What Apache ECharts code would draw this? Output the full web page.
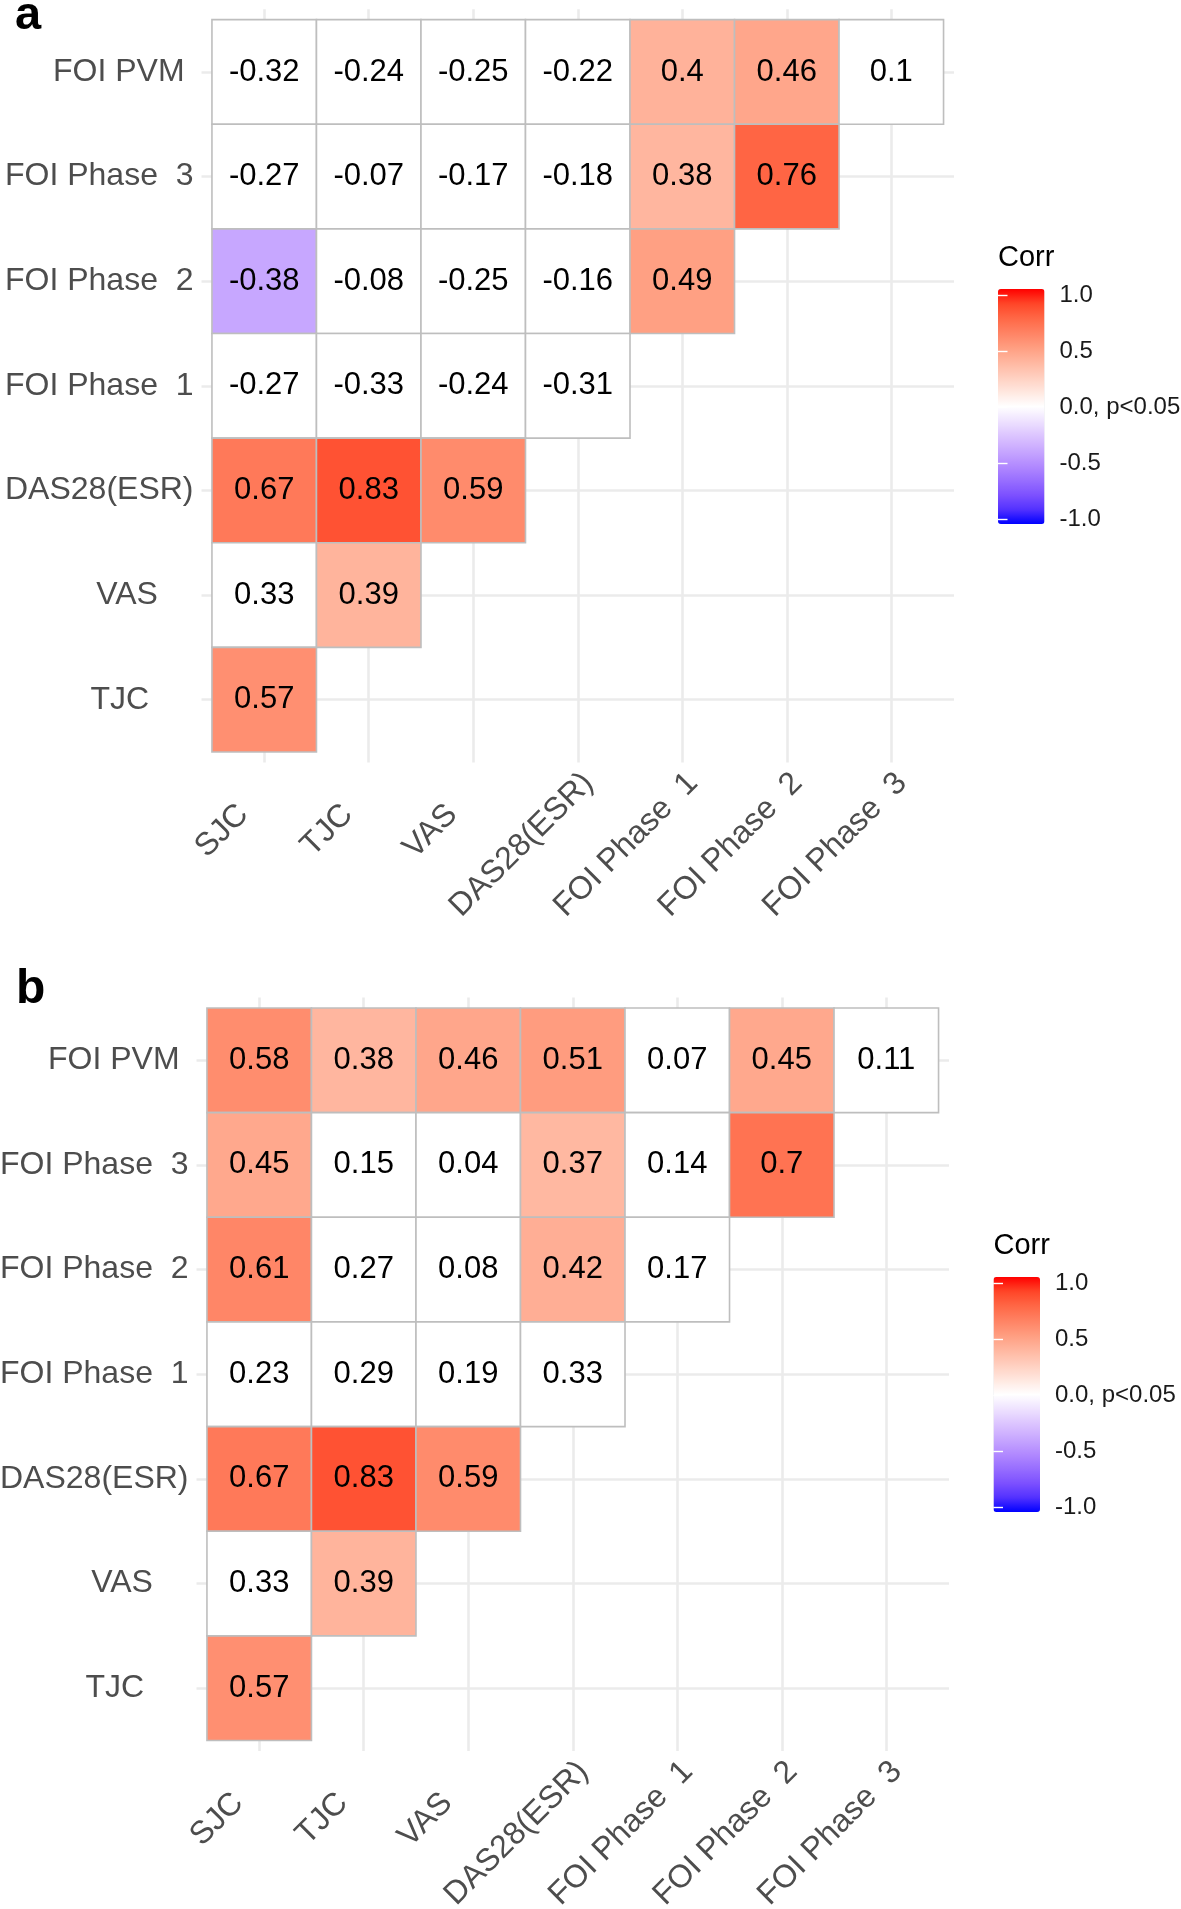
<!DOCTYPE html>
<html>
<head>
<meta charset="utf-8">
<script src="https://cdn.jsdelivr.net/npm/echarts@6/dist/echarts.min.js"></script>
<style>
  html, body { margin: 0; padding: 0; background: #ffffff; }
  #chart { width: 1181px; height: 1909px; }
</style>
</head>
<body>
<div id="chart"></div>
<script>
// Column variables (x axis), left to right; trailing spaces as in the original labels
const xLabels = ['SJC     ', 'TJC     ', 'VAS     ', 'DAS28(ESR)', 'FOI Phase  1', 'FOI Phase  2', 'FOI Phase  3'];
// Row variables (y axis), bottom to top
const yLabels = ['TJC     ', 'VAS    ', 'DAS28(ESR)', 'FOI Phase  1', 'FOI Phase  2', 'FOI Phase  3', 'FOI PVM '];

// Panel a correlations, rows listed top (FOI PVM) to bottom (TJC)
const corrA = [
  [-0.32, -0.24, -0.25, -0.22, 0.4, 0.46, 0.1],
  [-0.27, -0.07, -0.17, -0.18, 0.38, 0.76],
  [-0.38, -0.08, -0.25, -0.16, 0.49],
  [-0.27, -0.33, -0.24, -0.31],
  [0.67, 0.83, 0.59],
  [0.33, 0.39],
  [0.57]
];
// 1 = p<0.05 (coloured), 0 = not significant (left white)
const sigA = [
  [0, 0, 0, 0, 1, 1, 0],
  [0, 0, 0, 0, 1, 1],
  [1, 0, 0, 0, 1],
  [0, 0, 0, 0],
  [1, 1, 1],
  [0, 1],
  [1]
];

// Panel b correlations
const corrB = [
  [0.58, 0.38, 0.46, 0.51, 0.07, 0.45, 0.11],
  [0.45, 0.15, 0.04, 0.37, 0.14, 0.7],
  [0.61, 0.27, 0.08, 0.42, 0.17],
  [0.23, 0.29, 0.19, 0.33],
  [0.67, 0.83, 0.59],
  [0.33, 0.39],
  [0.57]
];
const sigB = [
  [1, 1, 1, 1, 0, 1, 0],
  [1, 0, 0, 1, 0, 1],
  [1, 0, 0, 1, 0],
  [0, 0, 0, 0],
  [1, 1, 1],
  [0, 1],
  [1]
];

const FONT = "'Liberation Sans', Arial, sans-serif";
// blue - white - red, interpolated in Lab like ggplot's gradient2
const corrColors = ['#0000FF', '#5432FF', '#7E52FF', '#996FFF', '#B38BFF', '#C8A8FF', '#DCC4FF', '#EEE2FF',
  '#FFFFFF', '#FFE7DF', '#FFCFBF', '#FFB7A0', '#FF9E81', '#FF8364', '#FF6846', '#FF4628', '#FF0000'];

function toCells(corr, sig) {
  const out = [];
  corr.forEach((row, r) => {
    row.forEach((v, c) => {
      out.push([c + 1, 7 - r, v, sig[r][c]]);
    });
  });
  return out;
}

function renderCell(params, api) {
  const x = api.value(0);
  const y = api.value(1);
  const v = api.value(2);
  const sig = api.value(3);
  const p0 = api.coord([x - 0.5, y + 0.5]);
  const p1 = api.coord([x + 0.5, y - 0.5]);
  const c = api.coord([x, y]);
  return {
    type: 'group',
    children: [
      {
        type: 'rect',
        shape: { x: p0[0], y: p0[1], width: p1[0] - p0[0], height: p1[1] - p0[1] },
        style: { fill: sig ? api.visual('color') : '#ffffff', stroke: '#BEBEBE', lineWidth: 1.6 }
      },
      {
        type: 'text',
        x: c[0],
        y: c[1],
        style: {
          text: String(v), fill: '#000000', fontSize: 31, fontFamily: FONT,
          align: 'center', verticalAlign: 'middle'
        }
      }
    ]
  };
}

const ticks = [1, 2, 3, 4, 5, 6, 7];

function panelXAxis(gridIndex) {
  return {
    type: 'value', gridIndex: gridIndex, min: 0.4, max: 7.6,
    axisLine: { show: false },
    axisTick: { show: false, customValues: ticks },
    splitLine: { show: true, lineStyle: { color: '#EBEBEB', width: 2.6 } },
    axisLabel: {
      customValues: ticks,
      formatter: v => xLabels[Math.round(v) - 1],
      rotate: 45, align: 'right', verticalAlign: 'top', padding: [4, 5, 0, 0],
      margin: -2, fontSize: 32, color: '#4D4D4D', fontFamily: FONT, hideOverlap: false
    }
  };
}

function panelYAxis(gridIndex) {
  return {
    type: 'value', gridIndex: gridIndex, min: 0.4, max: 7.6,
    axisLine: { show: false },
    axisTick: { show: false, customValues: ticks },
    splitLine: { show: true, lineStyle: { color: '#EBEBEB', width: 2.6 } },
    axisLabel: {
      customValues: ticks,
      formatter: v => yLabels[Math.round(v) - 1],
      margin: 8, fontSize: 32, color: '#4D4D4D', fontFamily: FONT, hideOverlap: false
    }
  };
}

function legendYAxis(gridIndex, position, withLabels) {
  return {
    type: 'value', gridIndex: gridIndex, min: -1, max: 1, interval: 0.5, position: position, z: 10,
    name: withLabels ? '' : 'Corr',
    nameLocation: 'end', nameGap: 37,
    nameTextStyle: { fontSize: 29, color: '#000000', fontFamily: FONT, align: 'left', verticalAlign: 'middle' },
    axisLine: { show: false },
    axisTick: { show: true, inside: true, length: 9.5, lineStyle: { color: '#ffffff', width: 1.4 } },
    splitLine: { show: false },
    axisLabel: {
      show: withLabels, margin: 15, fontSize: 24, color: '#1A1A1A', fontFamily: FONT,
      formatter: v => (v === 0 ? '0.0, p<0.05' : v.toFixed(1))
    }
  };
}

function legendMap(seriesIndex, left, top) {
  return {
    type: 'continuous', seriesIndex: seriesIndex, dimension: 2, min: -1, max: 1,
    calculable: false, hoverLink: false, orient: 'vertical', left: left, top: top,
    itemWidth: 46.5, itemHeight: 235, padding: 0,
    inRange: { color: corrColors }
  };
}

const chart = echarts.init(document.getElementById('chart'), null, { renderer: 'canvas' });

const option = {
  backgroundColor: '#ffffff',
  animation: false,
  grid: [
    { left: 201.5, top: 9.2, width: 752.5, height: 753.3, outerBoundsMode: 'none' },
    { left: 196.5, top: 997.5, width: 752.5, height: 753.5, outerBoundsMode: 'none' },
    { left: 998, top: 295, width: 46.5, height: 224, outerBoundsMode: 'none' },
    { left: 993.5, top: 1283, width: 46.5, height: 224, outerBoundsMode: 'none' }
  ],
  xAxis: [
    panelXAxis(0),
    panelXAxis(1),
    { type: 'value', gridIndex: 2, show: false, min: 0, max: 1 },
    { type: 'value', gridIndex: 3, show: false, min: 0, max: 1 }
  ],
  yAxis: [
    panelYAxis(0),
    panelYAxis(1),
    legendYAxis(2, 'right', true),
    legendYAxis(2, 'left', false),
    legendYAxis(3, 'right', true),
    legendYAxis(3, 'left', false)
  ],
  visualMap: [
    legendMap(0, 998, 289),
    legendMap(1, 993.5, 1277)
  ],
  graphic: [
    { type: 'text', left: 15, top: -7, style: { text: 'a', fontSize: 47, fontWeight: 'bold', fill: '#000000', fontFamily: FONT } },
    { type: 'text', left: 16, top: 966, style: { text: 'b', fontSize: 48, fontWeight: 'bold', fill: '#000000', fontFamily: FONT } }
  ],
  series: [
    {
      name: 'Panel a', type: 'custom', xAxisIndex: 0, yAxisIndex: 0,
      renderItem: renderCell, encode: { x: 0, y: 1 },
      data: toCells(corrA, sigA)
    },
    {
      name: 'Panel b', type: 'custom', xAxisIndex: 1, yAxisIndex: 1,
      renderItem: renderCell, encode: { x: 0, y: 1 },
      data: toCells(corrB, sigB)
    }
  ]
};

chart.setOption(option);
</script>
</body>
</html>
